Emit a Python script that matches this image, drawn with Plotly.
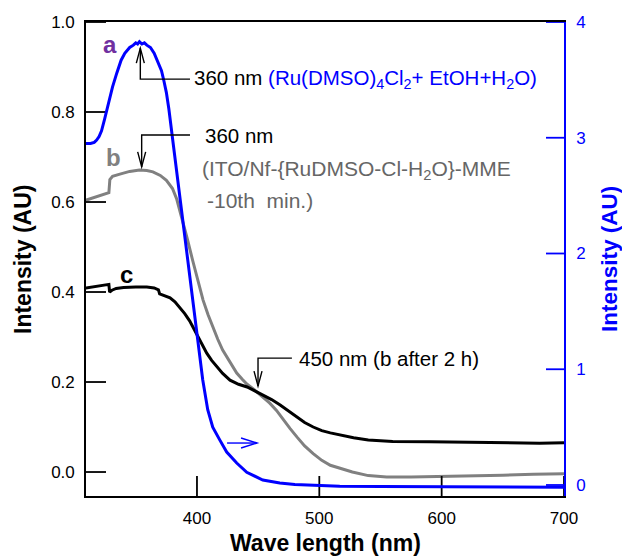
import plotly.graph_objects as go

# ---- spectra -------------------------------------------------------------
# a: Ru(DMSO)4Cl2 solution (right axis)
wl_a = [309, 313, 316, 318, 320, 322, 324.5, 327, 331, 334.5, 338, 341, 345, 348,
        350, 351.5, 353, 355, 357, 359, 362, 365, 368, 371, 373, 375, 377, 379,
        381, 384, 387.5, 391, 394, 396.5, 399.8, 402.2, 404.7, 408.8, 412.9,
        418.6, 424.3, 432.5, 440.7, 453.8, 467.7, 480, 494.7, 516.7, 550, 600,
        650, 700]
int_a = [2.95, 2.95, 2.96, 2.98, 3.01, 3.06, 3.16, 3.27, 3.44, 3.56, 3.67, 3.73,
         3.78, 3.80, 3.82, 3.81, 3.83, 3.81, 3.82, 3.80, 3.78, 3.73, 3.66, 3.58,
         3.49, 3.39, 3.25, 3.08, 2.90, 2.64, 2.33, 2.04, 1.80, 1.58, 1.31, 1.11,
         0.91, 0.65, 0.50, 0.39, 0.285, 0.19, 0.11, 0.043, 0.017, 0.005, 0.0,
         -0.01, -0.012, -0.015, -0.018, -0.02]

# b: ITO/Nf-{RuDMSO-Cl-H2O}-MME, 10th min (left axis)
wl_b = [309, 315, 320, 325, 328.0, 328.8, 331, 337, 345, 353, 359, 364, 370, 375,
        380, 383.5, 388, 392, 396.5, 400, 405, 409, 413, 417, 421, 426, 432.5,
        437, 441, 445, 449, 454, 459.5, 465, 470, 476, 482, 488, 495, 502, 509,
        517, 527, 540, 555, 575, 600, 625, 650, 675, 700]
int_b = [0.604, 0.609, 0.613, 0.617, 0.621, 0.650, 0.657, 0.662, 0.668, 0.671,
         0.670, 0.667, 0.659, 0.648, 0.630, 0.606, 0.562, 0.519, 0.470, 0.433,
         0.382, 0.350, 0.322, 0.295, 0.271, 0.248, 0.220, 0.206, 0.195, 0.187,
         0.178, 0.167, 0.153, 0.137, 0.118, 0.097, 0.077, 0.058, 0.041, 0.026,
         0.015, 0.008, 0.000, -0.008, -0.011, -0.011, -0.010, -0.009, -0.007,
         -0.005, -0.004]

# c: b after 2 h (left axis)
wl_c = [309, 315, 320, 325, 328.0, 328.6, 330.5, 334, 340, 350, 359, 365, 368.5,
        369.5, 373, 378, 382, 386, 390, 394, 397, 400.6, 404, 408, 412, 416, 421,
        427, 434, 441, 447, 454, 461, 468, 475, 482, 488, 495, 502, 509, 517,
        528, 540, 560, 590, 620, 650, 680, 700]
int_c = [0.409, 0.411, 0.413, 0.415, 0.417, 0.400, 0.404, 0.408, 0.410, 0.411,
         0.411, 0.409, 0.405, 0.396, 0.393, 0.387, 0.378, 0.366, 0.352, 0.336,
         0.321, 0.300, 0.283, 0.264, 0.248, 0.234, 0.219, 0.204, 0.195, 0.189,
         0.181, 0.171, 0.161, 0.149, 0.136, 0.121, 0.110, 0.100, 0.092, 0.087,
         0.082, 0.076, 0.071, 0.068, 0.067, 0.066, 0.066, 0.064, 0.065]

# ---- axes ----------------------------------------------------------------
x_range = [309.3, 700]
x_ticks = [400, 500, 600, 700]
yl_range = [-0.0533, 1.0]
yl_ticks = [0.0, 0.2, 0.4, 0.6, 0.8, 1.0]
yl_labels = ["0.0", "0.2", "0.4", "0.6", "0.8", "1.0"]
yr_range = [-0.095, 4.0]
yr_ticks = [0, 1, 2, 3, 4]

W, H = 622, 557
M = dict(l=86, r=58, t=22, b=61)
PW, PH = W - M["l"] - M["r"], H - M["t"] - M["b"]

BLUE = "#0000FF"
GRAY = "#808080"
GRAY_TXT = "#666666"
PURPLE = "#7030A0"
FONT = "Liberation Sans, Arial, sans-serif"

fig = go.Figure()
fig.add_trace(go.Scatter(x=wl_b, y=int_b, mode="lines", line=dict(color=GRAY, width=3),
                         showlegend=False, hoverinfo="skip"))
fig.add_trace(go.Scatter(x=wl_c, y=int_c, mode="lines", line=dict(color="black", width=3),
                         showlegend=False, hoverinfo="skip"))

# inward tick marks (20 px left/bottom, 18 px right), converted to axis units
dx_per_px = (x_range[1] - x_range[0]) / PW
dyl_per_px = (yl_range[1] - yl_range[0]) / PH
tx, ty = [], []
for v in x_ticks:
    tx += [v, v, None]
    ty += [yl_range[0], yl_range[0] + 20 * dyl_per_px, None]
for v in yl_ticks:
    tx += [x_range[0], x_range[0] + 20 * dx_per_px, None]
    ty += [v, v, None]
fig.add_trace(go.Scatter(x=tx, y=ty, mode="lines", line=dict(color="black", width=1.8),
                         showlegend=False, hoverinfo="skip", cliponaxis=False))
rx, ry = [], []
for v in yr_ticks:
    rx += [x_range[1], x_range[1] - 18 * dx_per_px, None]
    ry += [v, v, None]
fig.add_trace(go.Scatter(x=rx, y=ry, mode="lines", line=dict(color=BLUE, width=1.8),
                         yaxis="y2", showlegend=False, hoverinfo="skip", cliponaxis=False))

fig.add_trace(go.Scatter(x=wl_a, y=int_a, mode="lines", line=dict(color=BLUE, width=3),
                         yaxis="y2", showlegend=False, hoverinfo="skip"))

shapes = []

# ---- callouts: (tip_x, tip_y, corner_y, end_x) on the left axis -----------
callouts = [
    (353.7, 0.942, 0.873, 394.3, "up"),     # a peak, 360 nm
    (354.8, 0.678, 0.749, 394.3, "down"),   # b peak, 360 nm
    (449.9, 0.191, 0.253, 477.6, "down"),   # 450 nm shoulder
]
for cx, cy_tip, cy, ex, d in callouts:
    shapes.append(dict(type="path", xref="x", yref="y",
                       path=f"M {ex},{cy} L {cx},{cy} L {cx},{cy_tip}",
                       line=dict(color="black", width=1.4)))
    head = "M -4,-15 L 0,0 L 4,-15" if d == "up" else "M -4,15 L 0,0 L 4,15"
    shapes.append(dict(type="path", xref="x", yref="y", xsizemode="pixel",
                       ysizemode="pixel", xanchor=cx, yanchor=cy_tip, path=head,
                       line=dict(color="black", width=1.4)))

# arrow telling that curve a belongs to the right axis
arr_x0, arr_x1, arr_y = 424.6, 449.1, 0.0644
shapes.append(dict(type="line", xref="x", yref="y", x0=arr_x0, x1=arr_x1,
                   y0=arr_y, y1=arr_y, line=dict(color=BLUE, width=1.4)))
shapes.append(dict(type="path", xref="x", yref="y", xsizemode="pixel",
                   ysizemode="pixel", xanchor=arr_x1, yanchor=arr_y,
                   path="M -16,5 L 0,0 L -16,-5", line=dict(color=BLUE, width=1.4)))

ann = []
def text(x, y, s, color="black", size=20.5, xanchor="left", bold=False):
    ann.append(dict(x=x, y=y, xref="x", yref="y", text=f"<b>{s}</b>" if bold else s,
                    showarrow=False, xanchor=xanchor, yanchor="middle",
                    font=dict(family=FONT, size=size, color=color)))

text(395.9, 0.873,
     "360 nm <span style='color:#0000FF'>(Ru(DMSO)<sub>4</sub>Cl<sub>2</sub>+ EtOH+H<sub>2</sub>O)</span>")
text(404.9, 0.747, "360 nm")
text(402.5, 0.671, "(ITO/Nf-{RuDMSO-Cl-H<sub>2</sub>O}-MME", color=GRAY_TXT, size=21)
text(406.6, 0.604, "-10th\u00a0\u00a0min.)", color=GRAY_TXT, size=21)
text(481.7, 0.253, "450 nm (b after 2 h)")
text(328.9, 0.949, "a", color=PURPLE, size=24, xanchor="center", bold=True)
text(331.4, 0.700, "b", color=GRAY, size=24, xanchor="center", bold=True)
text(342.8, 0.440, "c", color="black", size=24, xanchor="center", bold=True)

# axis titles
ann.append(dict(x=-0.1318, y=0.5, xref="paper", yref="paper", showarrow=False,
                text="<b>Intensity (AU)</b>", textangle=-90, xanchor="center",
                yanchor="middle", font=dict(family=FONT, size=23, color="black")))
ann.append(dict(x=1.0941, y=0.5, xref="paper", yref="paper", showarrow=False,
                text="<b>Intensity (AU)</b>", textangle=-90, xanchor="center",
                yanchor="middle", font=dict(family=FONT, size=22.5, color=BLUE)))
ann.append(dict(x=0.5, y=-0.0992, xref="paper", yref="paper", showarrow=False,
                text="<b>Wave length (nm)</b>", xanchor="center", yanchor="middle",
                font=dict(family=FONT, size=23, color="black")))

fig.update_layout(
    width=W, height=H,
    margin=M,
    plot_bgcolor="white", paper_bgcolor="white",
    font=dict(family=FONT, size=17, color="black"),
    shapes=shapes, annotations=ann,
    xaxis=dict(range=x_range, tickvals=x_ticks, ticks="", showline=True,
               linecolor="black", linewidth=1.6, mirror=True, showgrid=False,
               zeroline=False, ticklabelstandoff=6, tickfont=dict(size=17)),
    yaxis=dict(range=yl_range, tickvals=yl_ticks, ticktext=yl_labels, ticks="",
               showline=True, linecolor="black", linewidth=1.6, showgrid=False,
               zeroline=False, ticklabelstandoff=6, tickfont=dict(size=17)),
    yaxis2=dict(range=yr_range, tickvals=yr_ticks, overlaying="y", side="right",
                ticks="", showline=True, linecolor=BLUE, linewidth=1.6,
                showgrid=False, zeroline=False, ticklabelstandoff=7,
                tickfont=dict(size=17, color=BLUE)),
)

fig.write_html("out.html")
